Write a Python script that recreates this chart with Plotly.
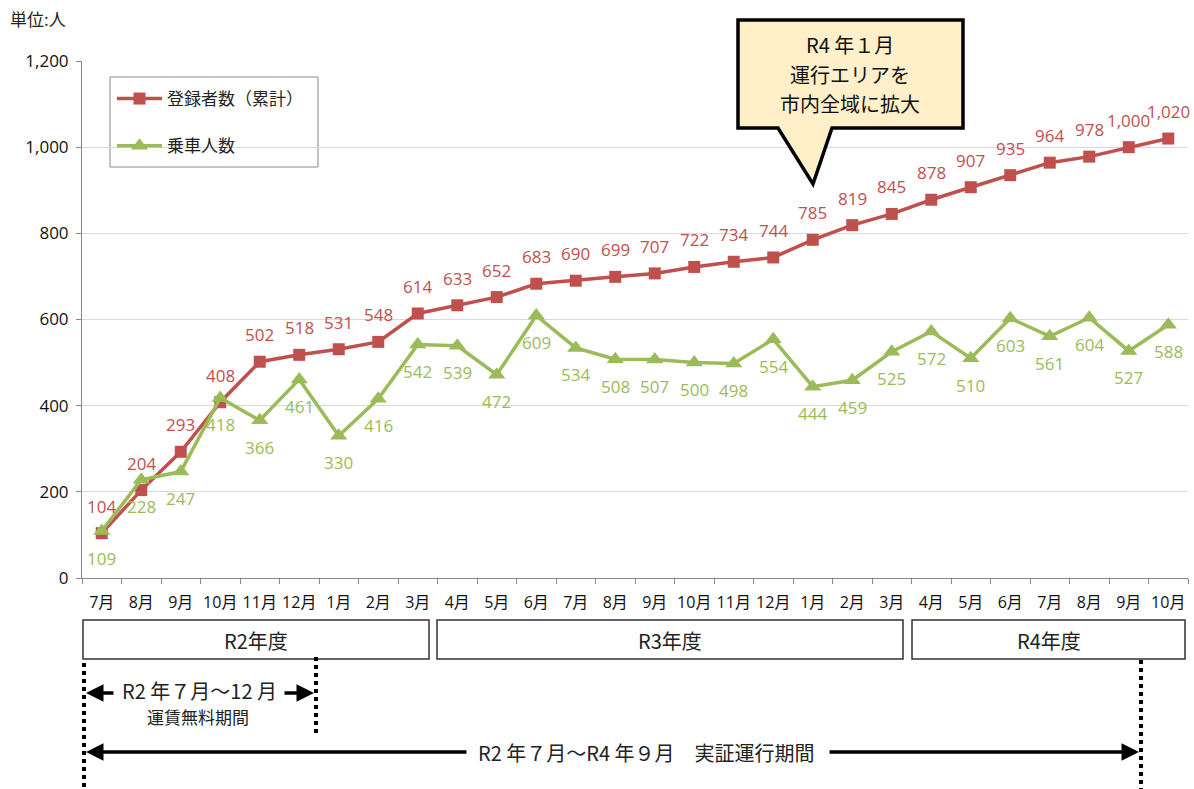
import plotly.graph_objects as go

months = ["7月", "8月", "9月", "10月", "11月", "12月", "1月", "2月", "3月",
          "4月", "5月", "6月", "7月", "8月", "9月", "10月", "11月", "12月", "1月", "2月", "3月",
          "4月", "5月", "6月", "7月", "8月", "9月", "10月"]
registered = [104, 204, 293, 408, 502, 518, 531, 548, 614, 633, 652, 683, 690, 699, 707,
              722, 734, 744, 785, 819, 845, 878, 907, 935, 964, 978, 1000, 1020]
riders = [109, 228, 247, 418, 366, 461, 330, 416, 542, 539, 472, 609, 534, 508, 507, 500,
          498, 554, 444, 459, 525, 572, 510, 603, 561, 604, 527, 588]
y_ticks = [0, 200, 400, 600, 800, 1000, 1200]
fiscal_years = ["R2年度", "R3年度", "R4年度"]
callout_lines = ["R4 年１月", "運行エリアを", "市内全域に拡大"]

RED = "#c0504d"
GREEN = "#9bbb59"
FONT = "Noto Sans CJK JP"
NUMFONT = "Open Sans, Noto Sans CJK JP"

W_PX, H_PX = 1194, 789
L, R, T, B = 82, 1188, 61, 578


def fx(p):
    return (p - L) / (R - L)


def fy(p):
    return (B - p) / (B - T)


x = list(range(len(months)))

fig = go.Figure()
fig.add_trace(go.Scatter(
    x=x, y=registered, name="登録者数（累計）", mode="lines+markers",
    line=dict(color=RED, width=3.5),
    marker=dict(symbol="square", size=12, color=RED),
    legendgroup="a",
))
fig.add_trace(go.Scatter(
    x=x, y=riders, name="乗車人数", mode="lines+markers",
    line=dict(color=GREEN, width=3.5),
    marker=dict(symbol="triangle-up", size=15, color=GREEN),
    legendgroup="b",
))

shapes = []
annotations = []

# data labels
for xi, v in zip(x, registered):
    annotations.append(dict(x=xi, y=v, xref="x", yref="y", text=f"{v:,}", showarrow=False,
                            yshift=27, xanchor="center", yanchor="middle",
                            font=dict(size=17, family=NUMFONT, color=RED)))
for xi, v in zip(x, riders):
    annotations.append(dict(x=xi, y=v, xref="x", yref="y", text=f"{v:,}", showarrow=False,
                            yshift=-27, xanchor="center", yanchor="middle",
                            font=dict(size=17, family=NUMFONT, color=GREEN)))

# legend frame
shapes.append(dict(type="rect", xref="paper", yref="paper",
                   x0=fx(110), x1=fx(318), y0=fy(77), y1=fy(167),
                   line=dict(color="#8a8a8a", width=1), fillcolor="white", layer="below"))

# fiscal-year boxes below the axis
box_px = [(83, 429), (437, 903), (912, 1185)]
for (x0, x1), label in zip(box_px, fiscal_years):
    shapes.append(dict(type="rect", xref="paper", yref="paper",
                       x0=fx(x0), x1=fx(x1), y0=fy(620), y1=fy(659),
                       line=dict(color="#333333", width=1.5), fillcolor="white"))
    annotations.append(dict(xref="paper", yref="paper", x=fx((x0 + x1) / 2), y=fy(640),
                            text=label, showarrow=False, xanchor="center", yanchor="middle",
                            font=dict(size=20, family=FONT, color="#222222")))

# dotted vertical markers
for xp, y0, y1 in [(84, 663, 789), (316, 657, 735), (1141, 660, 789)]:
    shapes.append(dict(type="line", xref="paper", yref="paper",
                       x0=fx(xp), x1=fx(xp), y0=fy(y0), y1=fy(y1),
                       line=dict(color="black", width=4, dash="dot")))

# callout
path = "M {} {} L {} {} L {} {} L {} {} L {} {} L {} {} L {} {} Z".format(
    fx(738), fy(20), fx(963), fy(20), fx(963), fy(128), fx(832), fy(128),
    fx(813), fy(184), fx(778), fy(128), fx(738), fy(128))
shapes.append(dict(type="path", xref="paper", yref="paper", path=path,
                   fillcolor="#fff0c9", line=dict(color="black", width=3.5)))
for line_text, yp in zip(callout_lines, [45, 74, 103]):
    annotations.append(dict(xref="paper", yref="paper", x=fx(850), y=fy(yp),
                            text=line_text, showarrow=False,
                            xanchor="center", yanchor="middle",
                            font=dict(size=20, family=FONT, color="#111111")))


# arrows
def arrow(head_x, tail_x, y):
    annotations.append(dict(xref="paper", yref="paper", x=fx(head_x), y=fy(y),
                            ax=tail_x - head_x, ay=0, axref="pixel", ayref="pixel",
                            text="", showarrow=True, arrowhead=2, arrowsize=1,
                            arrowwidth=3.5, arrowcolor="black", standoff=0,
                            startstandoff=0))


arrow(86, 115, 693)
arrow(314, 283, 693)
arrow(86, 468, 752)
arrow(1139, 828, 752)

annotations.append(dict(xref="paper", yref="paper", x=fx(199), y=fy(690),
                        text="R2 年７月～12 月", showarrow=False,
                        xanchor="center", yanchor="middle",
                        font=dict(size=20, family=FONT, color="#222222")))
annotations.append(dict(xref="paper", yref="paper", x=fx(198), y=fy(716),
                        text="運賃無料期間", showarrow=False,
                        xanchor="center", yanchor="middle",
                        font=dict(size=17, family=FONT, color="#222222")))
annotations.append(dict(xref="paper", yref="paper", x=fx(646), y=fy(752),
                        text="R2 年７月～R4 年９月　実証運行期間", showarrow=False,
                        xanchor="center", yanchor="middle",
                        font=dict(size=20, family=FONT, color="#222222")))
annotations.append(dict(xref="paper", yref="paper", x=fx(8), y=fy(18),
                        text="単位:人", showarrow=False,
                        xanchor="left", yanchor="middle",
                        font=dict(size=17, family=FONT, color="#222222")))

fig.update_layout(
    width=W_PX, height=H_PX,
    margin=dict(l=L, r=W_PX - R, t=T, b=H_PX - B, pad=0),
    paper_bgcolor="white", plot_bgcolor="white",
    font=dict(family=FONT, color="#222222"),
    shapes=shapes, annotations=annotations,
    showlegend=True,
    legend=dict(x=fx(112), y=fy(81), xanchor="left", yanchor="top",
                borderwidth=0, bgcolor="rgba(0,0,0,0)",
                font=dict(size=17, family=FONT, color="#222222"),
                tracegroupgap=22, itemwidth=45, traceorder="grouped"),
    xaxis=dict(range=[-0.5, len(months) - 0.5], tickmode="array", tickvals=x,
               ticktext=months, ticks="", showgrid=False, zeroline=False,
               showline=True, linecolor="#888888", linewidth=1,
               tickfont=dict(size=16, family=NUMFONT, color="#111111"),
               ticklabelstandoff=10,
               minor=dict(tickmode="array",
                          tickvals=[i - 0.5 for i in range(len(months) + 1)],
                          ticks="outside", ticklen=5, tickcolor="#888888",
                          showgrid=False)),
    yaxis=dict(range=[0, 1200], tickmode="array", tickvals=y_ticks, tickformat=",d",
               showgrid=True, gridcolor="#d9d9d9", gridwidth=1, zeroline=False,
               showline=True, linecolor="#888888", linewidth=1,
               ticks="outside", ticklen=5, tickcolor="#888888",
               ticklabelstandoff=4,
               tickfont=dict(size=17, family=NUMFONT, color="#111111")),
)

fig.write_html("out.html")
